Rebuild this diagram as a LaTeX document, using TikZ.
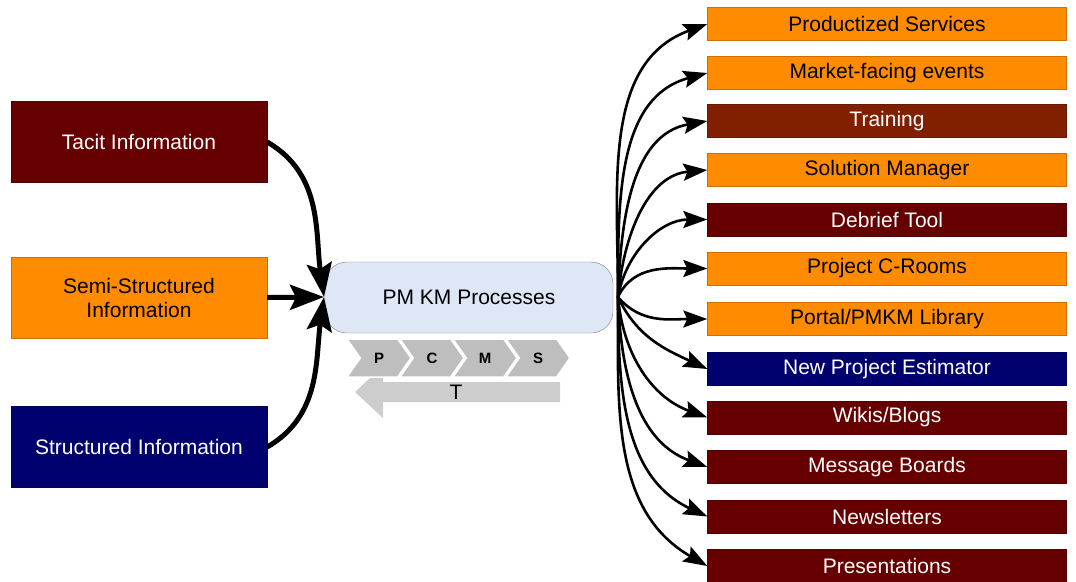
\documentclass[tikz,border=0pt]{standalone}
\usepackage{fontspec}
\setmainfont{Liberation Sans}
\usetikzlibrary{arrows.meta, shapes.symbols, positioning}
\definecolor{kmorange}{RGB}{255,140,0}
\definecolor{kmmaroon}{RGB}{102,0,0}
\definecolor{kmrust}{RGB}{128,32,0}
\definecolor{kmnavy}{RGB}{0,0,110}
\definecolor{kmblue}{RGB}{222,231,245}
\definecolor{kmgray}{RGB}{190,190,190}
\definecolor{kmlight}{RGB}{205,205,205}
\tikzset{
  srcbox/.style={draw=#1!80!black, fill=#1, minimum width=256, minimum height=81, inner sep=0, align=center},
  outbox/.style={draw=#1!80!black, fill=#1, minimum width=359, minimum height=33, inner sep=0},
  chev/.style={shape=signal, signal to=east, signal from=west, signal pointer angle=110,
    fill=kmgray, draw=white, line width=1.5, minimum width=64, minimum height=38, inner sep=0,
    font=\fontsize{15}{17}\selectfont\bfseries},
  feed/.style={-{Stealth[length=34pt, width=25pt, inset=6pt]}, line width=5pt},
  fan/.style={-{Stealth[length=24pt, width=17pt, inset=4pt]}, line width=2.6pt}
}
\begin{document}
\begin{tikzpicture}[x=1pt, y=-1pt, font=\fontsize{21}{24}\selectfont]
\useasboundingbox (0,0) rectangle (1076,581);
\node[srcbox=kmmaroon, text=white] (tacit) at (139,141.5) {Tacit Information};
\node[srcbox=kmorange] (semi) at (139,297.5) {Semi-Structured\\Information};
\node[srcbox=kmnavy, text=white] (struct) at (139,447) {Structured Information};
\node[draw=gray, fill=kmblue, rounded corners=22, minimum width=288, minimum height=71] (pm) at (469,297.5) {PM KM Processes};
\fill[kmlight] (560,382) -- (383,382) -- (383,366) -- (355,392) -- (383,418) -- (383,402) -- (560,402) -- cycle;
\node (tl) at (456,392) {T};
\node[chev] (p) at (379,358) {P};
\node[chev] (c) at (432,358) {C};
\node[chev] (m) at (485,358) {M};
\node[chev] (s) at (538,358) {S};
\coordinate (cin) at (324,297);
\coordinate (cout) at (618,297);
\node[outbox=kmorange] (ps) at (887,24) {Productized Services};
\node[outbox=kmorange] (mf) at (887,73) {Market-facing events};
\node[outbox=kmrust, text=white] (tr) at (887,121) {Training};
\node[outbox=kmorange] (sm) at (887,170) {Solution Manager};
\node[outbox=kmmaroon, text=white] (db) at (887,219.5) {Debrief Tool};
\node[outbox=kmorange] (cr) at (887,268.5) {Project C-Rooms};
\node[outbox=kmorange] (pt) at (887,319) {Portal/PMKM Library};
\node[outbox=kmnavy, text=white] (np) at (887,369) {New Project Estimator};
\node[outbox=kmmaroon, text=white] (wb) at (887,417.5) {Wikis/Blogs};
\node[outbox=kmmaroon, text=white] (mb) at (887,467) {Message Boards};
\node[outbox=kmmaroon, text=white] (nl) at (887,516.5) {Newsletters};
\node[outbox=kmmaroon, text=white] (pr) at (887,566) {Presentations};
\draw[feed] (tacit.east |- 0,142) to[out=-30, in=98] (cin);
\draw[feed] (semi.east) -- (cin);
\draw[feed] (struct.east |- 0,447) to[out=30, in=-98] (cin);
\draw[fan] (cout) to[out=90, in=200] (ps.west);
\draw[fan] (cout) to[out=90, in=195] (mf.west);
\draw[fan] (cout) to[out=88, in=190] (tr.west);
\draw[fan] (cout) to[out=85, in=185] (sm.west);
\draw[fan] (cout) to[out=80, in=180] (db.west);
\draw[fan] (cout) to[out=65, in=180] (cr.west);
\draw[fan] (cout) to[out=-50, in=180] (pt.west);
\draw[fan] (cout) to[out=-65, in=155] (np.west);
\draw[fan] (cout) to[out=-85, in=160] (wb.west);
\draw[fan] (cout) to[out=-88, in=160] (mb.west);
\draw[fan] (cout) to[out=-90, in=155] (nl.west);
\draw[fan] (cout) to[out=-90, in=150] (pr.west);
\end{tikzpicture}
\end{document}
